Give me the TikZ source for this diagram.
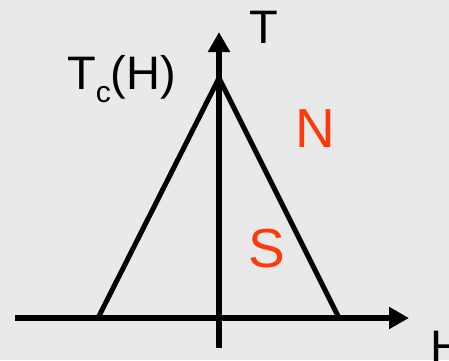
\documentclass[tikz,border=0pt]{standalone}
\usepackage{fontspec}
\setmainfont{Liberation Sans}
\usetikzlibrary{arrows.meta}
\definecolor{bg}{HTML}{E9E9E9}
\definecolor{lab}{HTML}{FF3A0A}
\begin{document}
\begin{tikzpicture}[x=1pt,y=-1pt,
  axis/.style={line width=6.5pt,-{Triangle[length=20pt,width=21pt]}},
  curve/.style={line width=5pt},
  txt/.style={inner sep=0pt,anchor=base west,font=\fontsize{47}{50}\selectfont},
  redtxt/.style={inner sep=0pt,anchor=base west,text=lab,font=\fontsize{55}{60}\selectfont}]
\fill[bg] (0,0) rectangle (449,360);
\useasboundingbox (0,0) rectangle (449,360);
\coordinate (xs) at (15,318);
\coordinate (xe) at (409,318);
\coordinate (ys) at (219,348);
\coordinate (ye) at (219,32);
\coordinate (apex) at (219,78);
\coordinate (bl) at (98,318);
\coordinate (br) at (339,318);
\draw[curve] (bl) -- (apex) -- (br);
\draw[axis] (xs) -- (xe);
\draw[axis] (ys) -- (ye);
\node[txt] (tlab) at (249,43) {T};
\node[txt] (hlab) at (430,363) {H};
\node[txt] (tc) at (67,89) {T\raisebox{-13pt}{\fontsize{30}{30}\selectfont c}(H)};
\node[redtxt] (nlab) at (295,147) {N};
\node[redtxt] (slab) at (248,267) {S};
\end{tikzpicture}
\end{document}
